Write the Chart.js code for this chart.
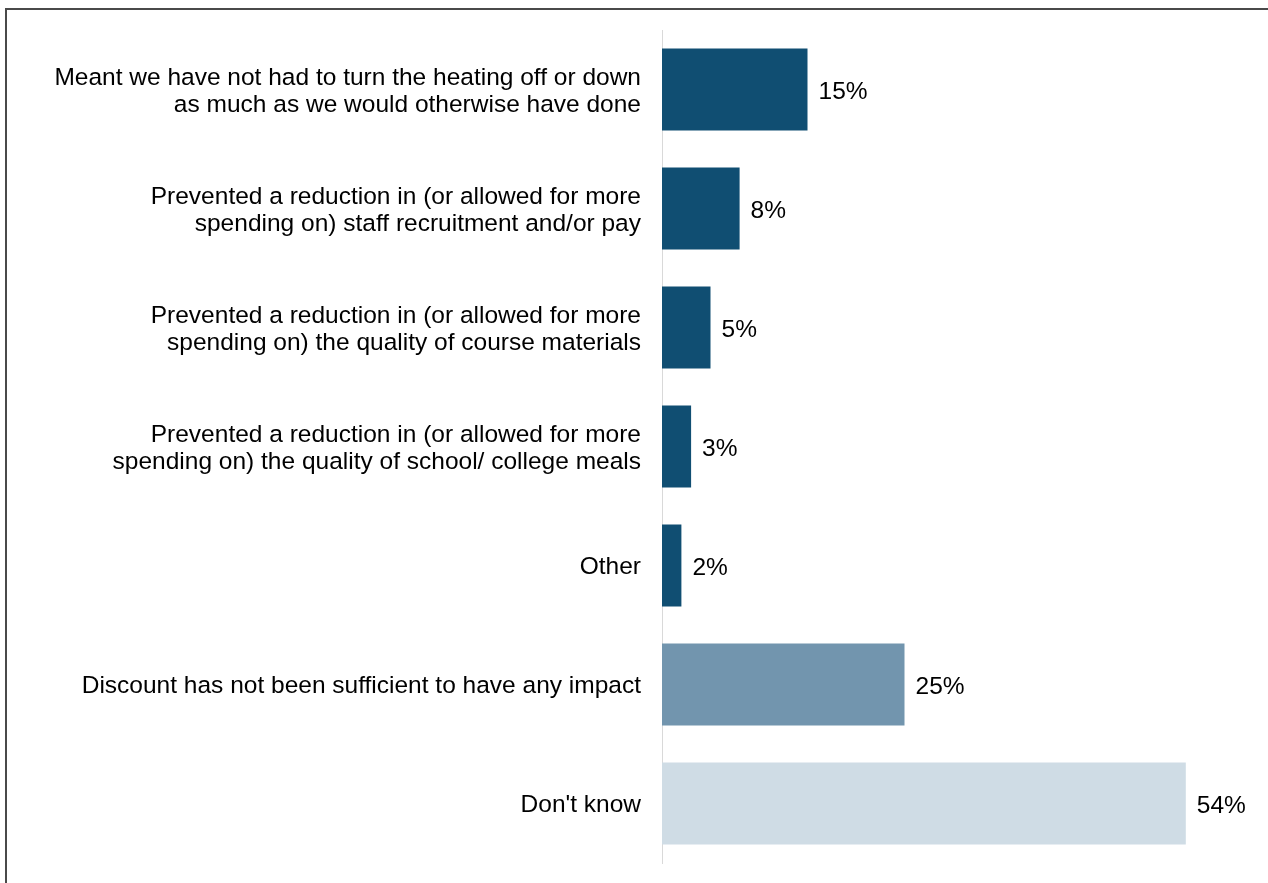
<!DOCTYPE html>
<html>
<head>
<meta charset="utf-8">
<script src="https://cdn.jsdelivr.net/npm/chart.js@4/dist/chart.umd.min.js"></script>
<style>
    html, body { margin: 0; padding: 0; background: #fff; }
    #wrap { position: relative; width: 1268px; height: 883px; overflow: hidden; }
    #frame {
        position: absolute; left: 5px; top: 8px; width: 1300px; height: 900px;
        border-left: 2px solid #4a4a4a; border-top: 2px solid #4a4a4a;
        box-sizing: border-box; pointer-events: none;
    }
    canvas { position: absolute; left: 0; top: 0; }
</style>
</head>
<body>
<div id="wrap">
    <div id="frame"></div>
    <canvas id="impactChart" width="1268" height="883"></canvas>
</div>
<script>
// Categories and percentages
const categories = [
    ['Meant we have not had to turn the heating off or down', 'as much as we would otherwise have done'],
    ['Prevented a reduction in (or allowed for more', 'spending on) staff recruitment and/or pay'],
    ['Prevented a reduction in (or allowed for more', 'spending on) the quality of course materials'],
    ['Prevented a reduction in (or allowed for more', 'spending on) the quality of school/ college meals'],
    'Other',
    'Discount has not been sufficient to have any impact',
    "Don't know"
];
const values = [15, 8, 5, 3, 2, 25, 54];
const barColors = ['#104e72', '#104e72', '#104e72', '#104e72', '#104e72', '#7295ae', '#cfdce5'];

const fonts = { family: "'Liberation Sans', Arial, sans-serif", size: 24.5 };

// Draws the "NN%" label just past the end of each bar
const valueLabels = {
    id: 'valueLabels',
    afterDatasetsDraw(chart) {
        const ctx = chart.ctx;
        const meta = chart.getDatasetMeta(0);
        ctx.save();
        ctx.font = fonts.size + 'px ' + fonts.family;
        ctx.fillStyle = '#000';
        ctx.textAlign = 'left';
        ctx.textBaseline = 'middle';
        meta.data.forEach((bar, i) => {
            ctx.fillText(values[i] + '%', bar.x + 11, bar.y + 3);
        });
        ctx.restore();
    }
};

const ctx = document.getElementById('impactChart').getContext('2d');
new Chart(ctx, {
    type: 'bar',
    data: {
        labels: categories,
        datasets: [{
            data: values,
            backgroundColor: barColors,
            borderWidth: 0,
            barPercentage: 0.69,
            categoryPercentage: 1
        }]
    },
    options: {
        indexAxis: 'y',
        responsive: false,
        animation: false,
        layout: { padding: { top: 30, bottom: 20, right: 24, left: 0 } },
        plugins: {
            legend: { display: false },
            tooltip: { enabled: false }
        },
        scales: {
            x: {
                display: false,
                min: 0,
                max: 60
            },
            y: {
                afterFit: (scale) => {
                    scale.width = 662;
                    scale.paddingTop = 0;
                    scale.paddingBottom = 0;
                },
                grid: { display: false, drawTicks: false },
                border: { display: true, color: '#d9d9d9', width: 1 },
                ticks: {
                    color: '#000',
                    padding: 21,
                    labelOffset: 2,
                    font: { family: fonts.family, size: fonts.size, lineHeight: 1.1 }
                }
            }
        }
    },
    plugins: [valueLabels]
});
</script>
</body>
</html>
